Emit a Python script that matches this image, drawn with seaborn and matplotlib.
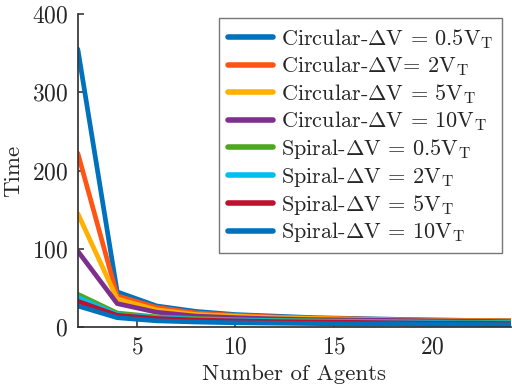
import matplotlib
matplotlib.use("Agg")
import matplotlib.pyplot as plt
import numpy as np
import pandas as pd
import seaborn as sns

agents = [2, 4, 6, 8, 10, 12, 14, 16, 18, 20, 22, 24]

labels = [
    r"Circular-$\Delta$V = 0.5V$_\mathrm{T}$",
    r"Circular-$\Delta$V= 2V$_\mathrm{T}$",
    r"Circular-$\Delta$V = 5V$_\mathrm{T}$",
    r"Circular-$\Delta$V = 10V$_\mathrm{T}$",
    r"Spiral-$\Delta$V = 0.5V$_\mathrm{T}$",
    r"Spiral-$\Delta$V = 2V$_\mathrm{T}$",
    r"Spiral-$\Delta$V = 5V$_\mathrm{T}$",
    r"Spiral-$\Delta$V = 10V$_\mathrm{T}$",
]

circ_05 = [355, 45, 27, 20, 16, 14, 12, 11, 10, 9, 8.5, 8]
circ_2 = [222, 40, 25, 18, 15, 13, 11.5, 10.5, 9.5, 9, 8.5, 8]
circ_5 = [145, 36, 22, 16, 14, 12, 11, 10, 9, 8.5, 8, 7.5]
circ_10 = [97, 30, 19, 14, 12, 10.5, 9.5, 9, 8.5, 8, 7.5, 7]
spir_05 = [42, 18, 13, 11, 9.5, 8.5, 8, 7.5, 7, 6.5, 6, 6]
spir_2 = [38, 16, 12, 10, 9, 8, 7.5, 7, 6.5, 6, 5.5, 5.5]
spir_5 = [33, 15, 11, 9, 8, 7, 6.5, 6, 5.5, 5, 5, 4.5]
spir_10 = [27, 12, 8, 6.5, 5.5, 5, 4.5, 4, 4, 3.5, 3.5, 3]

colors = ["#0072BD", "#FF5414", "#FFB000", "#7E2F8E",
          "#4DA81E", "#00BFEF", "#C0102F", "#0072BD"]

series = [circ_05, circ_2, circ_5, circ_10, spir_05, spir_2, spir_5, spir_10]
df = pd.concat([pd.DataFrame({"agents": agents, "time": s, "case": lab})
                for s, lab in zip(series, labels)], ignore_index=True)

sns.set_theme(style="ticks")
plt.rcParams["font.family"] = ["cmr10", "DejaVu Serif"]
plt.rcParams["mathtext.fontset"] = "cm"
plt.rcParams["axes.formatter.use_mathtext"] = True

fig = plt.figure(figsize=(5.12, 3.88), dpi=100)
ax = fig.add_axes([0.152, 0.157, 0.846, 0.807])
sns.lineplot(data=df, x="agents", y="time", hue="case", hue_order=labels,
             palette=colors, lw=3.4, ax=ax, sort=False, estimator=None)

ax.set_xlim(2, 24)
ax.set_ylim(0, 400)
ax.set_xticks([5, 10, 15, 20])
ax.set_yticks([0, 100, 200, 300, 400])
ax.tick_params(direction="in", labelsize=17, length=4, color="#444444", pad=7)
for side in ("top", "right"):
    ax.spines[side].set_visible(False)
for side in ("left", "bottom"):
    ax.spines[side].set_color("#333333")
ax.set_xlabel("Number of Agents", fontsize=16.5, labelpad=4)
ax.set_ylabel("Time", fontsize=16.5, labelpad=6)

leg = ax.legend(loc="upper right", fontsize=16, frameon=True, fancybox=False,
                edgecolor="#555555", handlelength=2.0, labelspacing=0.17,
                borderpad=0.4, handletextpad=0.35, borderaxespad=0,
                bbox_to_anchor=(0.979, 0.987))
leg.get_frame().set_linewidth(1.0)
for h in leg.get_lines():
    h.set_linewidth(4)

fig.savefig("out.png", dpi=100)
